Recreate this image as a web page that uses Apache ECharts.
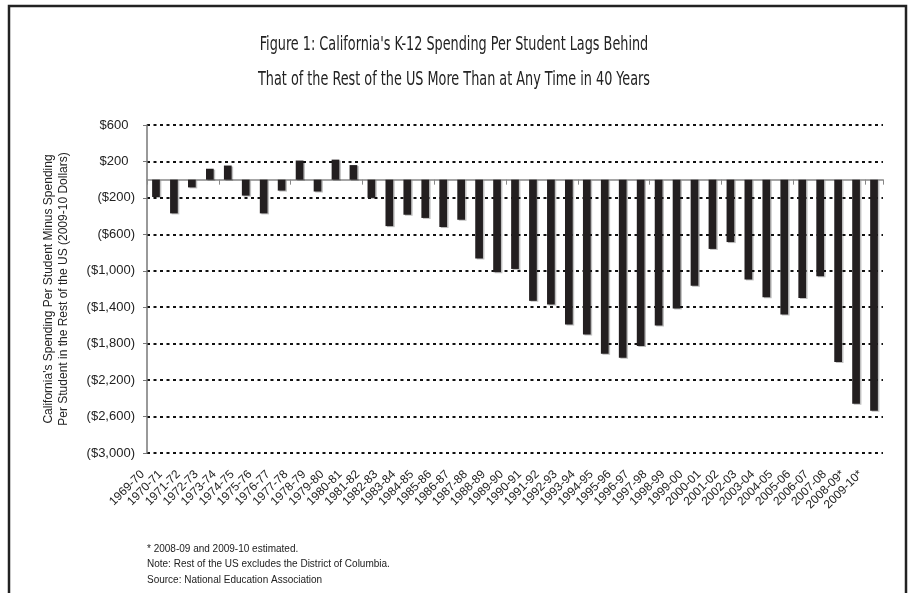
<!DOCTYPE html>
<html>
<head>
<meta charset="utf-8">
<script src="https://cdn.jsdelivr.net/npm/echarts@6/dist/echarts.min.js"></script>
<style>
    html, body { margin: 0; padding: 0; background: #fff; }
    #chart { width: 908px; height: 593px; }
</style>
</head>
<body>
<div id="chart"></div>
<script>
    // school years on the x axis
    const years = [
        "1969-70", "1970-71", "1971-72", "1972-73", "1973-74", "1974-75", "1975-76", "1976-77",
        "1977-78", "1978-79", "1979-80", "1980-81", "1981-82", "1982-83", "1983-84", "1984-85",
        "1985-86", "1986-87", "1987-88", "1988-89", "1989-90", "1990-91", "1991-92", "1992-93",
        "1993-94", "1994-95", "1995-96", "1996-97", "1997-98", "1998-99", "1999-00", "2000-01",
        "2001-02", "2002-03", "2003-04", "2004-05", "2005-06", "2006-07", "2007-08", "2008-09*",
        "2009-10*"
    ];

    // California minus rest of US, per student, 2009-10 dollars
    const gap = [
        -190, -370, -85, 120, 155, -175, -370, -120,
        210, -130, 220, 160, -200, -510, -385, -420,
        -520, -440, -865, -1015, -980, -1330, -1370, -1590,
        -1700, -1910, -1955, -1825, -1600, -1415, -1165, -760,
        -685, -1095, -1290, -1480, -1300, -1060, -2000, -2460,
        -2535
    ];

    // y axis range ($600 down to ($3,000) every $400)
    const yMin = -3000;
    const yMax = 600;
    const yStep = 400;

    const titleLines = [
        "Figure 1: California's K-12 Spending Per Student Lags Behind",
        "That of the Rest of the US More Than at Any Time in 40 Years"
    ];
    const yName = [
        "California's Spending Per Student Minus Spending",
        "Per Student in the Rest of the US (2009-10 Dollars)"
    ];
    const notes = [
        "* 2008-09 and 2009-10 estimated.",
        "Note: Rest of the US excludes the District of Columbia.",
        "Source: National Education Association"
    ];

    const chart = echarts.init(document.getElementById("chart"));

    // ($1,000) style for negatives, en space keeps positives lined up
    const money = v => {
        const s = "$" + Math.abs(v).toLocaleString("en-US");
        return v < 0 ? "(" + s + ")" : s + "\u2002";
    };

    const sans = "'Liberation Sans', Arial, sans-serif";
    const narrow = "'Liberation Sans Narrow', 'DejaVu Sans Condensed', sans-serif";

    const option = {
        backgroundColor: "#fff",
        animation: false,
        grid: {
            left: 147,
            right: 25,
            top: 125,
            bottom: 140
        },
        xAxis: [
            {
                // labels at the bottom of the plot
                type: "category",
                data: years,
                position: "bottom",
                axisLine: { show: false, onZero: false },
                axisTick: { show: false },
                axisLabel: {
                    interval: 0,
                    rotate: 45,
                    margin: 6,
                    padding: [0, 19, 0, 0],
                    fontFamily: sans,
                    fontSize: 12,
                    color: "#222"
                }
            },
            {
                // zero line with ticks between the bars
                type: "category",
                data: years,
                position: "bottom",
                axisLine: { show: true, onZero: true, lineStyle: { color: "#888", width: 1.5 } },
                axisTick: { show: true, length: 5, lineStyle: { color: "#888", width: 1 } },
                axisLabel: { show: false },
                splitLine: { show: false }
            }
        ],
        yAxis: {
            type: "value",
            min: yMin,
            max: yMax,
            interval: yStep,
            name: yName.join("\n"),
            nameLocation: "middle",
            nameGap: 76,
            nameTextStyle: {
                fontFamily: sans,
                fontSize: 12,
                lineHeight: 15,
                color: "#222"
            },
            axisLine: { show: true, lineStyle: { color: "#777", width: 1.5 } },
            axisTick: { show: true, length: 4, lineStyle: { color: "#777" } },
            axisLabel: {
                formatter: money,
                margin: 12,
                fontFamily: sans,
                fontSize: 13,
                color: "#222"
            },
            splitLine: {
                show: true,
                lineStyle: { color: "#111", width: 2, type: [3, 3.5] }
            }
        },
        graphic: [
            {
                type: "polyline",
                shape: { points: [[9, 593], [9, 6], [906, 6], [906, 593]] },
                style: { stroke: "#222", lineWidth: 2.5, fill: null },
                silent: true
            },
            // title in a tall condensed face
            {
                type: "text",
                x: 454,
                y: 45,
                scaleX: 0.75,
                style: {
                    text: titleLines[0],
                    font: "19px " + narrow,
                    align: "center",
                    verticalAlign: "middle",
                    fill: "#222"
                }
            },
            {
                type: "text",
                x: 454,
                y: 80,
                scaleX: 0.75,
                style: {
                    text: titleLines[1],
                    font: "19px " + narrow,
                    align: "center",
                    verticalAlign: "middle",
                    fill: "#222"
                }
            },
            {
                type: "text",
                left: 147,
                top: 541,
                style: {
                    text: notes.join("\n"),
                    font: "10px " + sans,
                    lineHeight: 15.5,
                    fill: "#222"
                }
            }
        ],
        series: [
            {
                type: "bar",
                xAxisIndex: 0,
                data: gap,
                barWidth: "43%",
                itemStyle: {
                    color: "#231f20",
                    shadowColor: "rgba(0,0,0,0.25)",
                    shadowOffsetX: 1.5,
                    shadowOffsetY: 1
                }
            }
        ]
    };

    chart.setOption(option);
</script>
</body>
</html>
